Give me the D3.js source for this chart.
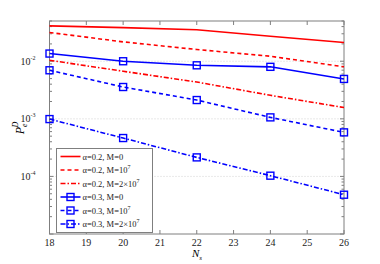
<!DOCTYPE html>
<html>
<head>
<meta charset="utf-8">
<script src="https://cdn.jsdelivr.net/npm/d3@7"></script>
<style>
  body { margin: 0; background: #fff; }
  svg { display: block; font-family: "Liberation Serif", "DejaVu Serif", serif; }
</style>
</head>
<body>
<div id="chart"></div>
<script>
const Ns = [18, 20, 22, 24, 26];

const a02M0   = [0.0411, 0.0383, 0.0353, 0.0272, 0.0211];
const a02M1e7 = [0.0316, 0.0217, 0.0160, 0.0122, 0.0080];
const a02M2e7 = [0.0104, 0.0067, 0.00436, 0.00256, 0.00157];
const a03M0   = [0.0136, 0.0100, 0.0085, 0.0080, 0.00493];
const a03M1e7 = [0.00697, 0.00357, 0.00212, 0.00106, 0.000582];
const a03M2e7 = [0.00099, 0.000464, 0.000214, 0.000103, 0.0000481];

const xTicks = [18, 19, 20, 21, 22, 23, 24, 25, 26];
const yTicks = [1e-4, 1e-3, 1e-2];
const yTickExp = ['-4', '-3', '-2'];

const series = [
    { alpha: '0.2', m: ['0'], values: a02M0, color: '#ff0000', dash: null, marker: false },
    { alpha: '0.2', m: ['10', '7'], values: a02M1e7, color: '#ff0000', dash: '4,3', marker: false },
    { alpha: '0.2', m: ['2×10', '7'], values: a02M2e7, color: '#ff0000', dash: '5,2,1.5,2', marker: false },
    { alpha: '0.3', m: ['0'], values: a03M0, color: '#0000ff', dash: null, marker: true },
    { alpha: '0.3', m: ['10', '7'], values: a03M1e7, color: '#0000ff', dash: '4,3', marker: true },
    { alpha: '0.3', m: ['2×10', '7'], values: a03M2e7, color: '#0000ff', dash: '5,2,1.5,2', marker: true }
];

const width = 380, height = 264;
const margin = { top: 21, right: 36, bottom: 30, left: 49.5 };
const iw = width - margin.left - margin.right;
const ih = height - margin.top - margin.bottom;

const svg = d3.select('#chart').append('svg')
    .attr('width', width)
    .attr('height', height);

const g = svg.append('g').attr('transform', `translate(${margin.left},${margin.top})`);

const x = d3.scaleLinear().domain([18, 26]).range([0, iw]);
const y = d3.scaleLog().domain([1e-5, 5e-2]).range([ih, 0]);

// grid
g.append('g').selectAll('line')
    .data(yTicks)
    .join('line')
    .attr('x1', 0).attr('x2', iw)
    .attr('y1', d => y(d)).attr('y2', d => y(d))
    .attr('stroke', '#c8c8c8')
    .attr('stroke-width', 0.8)
    .attr('stroke-dasharray', '1,2');

// minor ticks on y
const minor = [];
for (let e = -5; e <= -2; e++) {
    for (let k = 1; k <= 9; k++) {
        const v = k * Math.pow(10, e);
        if (v >= 1e-5 && v <= 5e-2) minor.push({ v, major: k === 1 });
    }
}
const tickCol = '#7f7f7f';
const yt = g.append('g');
minor.forEach(t => {
    const len = t.major ? 4 : 2.5;
    yt.append('line').attr('x1', 0).attr('x2', len).attr('y1', y(t.v)).attr('y2', y(t.v)).attr('stroke', tickCol);
    yt.append('line').attr('x1', iw).attr('x2', iw - len).attr('y1', y(t.v)).attr('y2', y(t.v)).attr('stroke', tickCol);
});

// x ticks
const xt = g.append('g');
xTicks.forEach(t => {
    xt.append('line').attr('x1', x(t)).attr('x2', x(t)).attr('y1', ih).attr('y2', ih - 4).attr('stroke', tickCol);
    xt.append('line').attr('x1', x(t)).attr('x2', x(t)).attr('y1', 0).attr('y2', 4).attr('stroke', tickCol);
    xt.append('text')
        .attr('x', x(t)).attr('y', ih + 12)
        .attr('text-anchor', 'middle')
        .attr('font-size', 10)
        .attr('fill', '#222')
        .text(t);
});

// y tick labels
yTicks.forEach((t, i) => {
    const tx = g.append('text')
        .attr('x', -14).attr('y', y(t) + 3.5)
        .attr('text-anchor', 'end')
        .attr('font-size', 10)
        .attr('fill', '#222');
    tx.append('tspan').text('10');
    tx.append('tspan').attr('font-size', 6).attr('dy', -5).text(yTickExp[i]);
});

// frame
g.append('rect')
    .attr('width', iw).attr('height', ih)
    .attr('fill', 'none')
    .attr('stroke', tickCol)
    .attr('stroke-width', 1);

// lines
const line = d3.line()
    .x((d, i) => x(Ns[i]))
    .y(d => y(d));

series.forEach(s => {
    g.append('path')
        .datum(s.values)
        .attr('d', line)
        .attr('fill', 'none')
        .attr('stroke', s.color)
        .attr('stroke-width', 1.6)
        .attr('stroke-dasharray', s.dash);
    if (s.marker) {
        g.selectAll(null)
            .data(s.values)
            .join('rect')
            .attr('x', (d, i) => x(Ns[i]) - 3.5)
            .attr('y', d => y(d) - 3.5)
            .attr('width', 7).attr('height', 7)
            .attr('fill', 'none')
            .attr('stroke', s.color)
            .attr('stroke-width', 1.4);
    }
});

// axis labels
const xl = svg.append('text')
    .attr('x', 197).attr('y', 257)
    .attr('text-anchor', 'middle')
    .attr('font-size', 11)
    .attr('font-style', 'italic');
xl.append('tspan').text('N');
xl.append('tspan').attr('font-size', 7).attr('dy', 3).text('s');

const yl = svg.append('text')
    .attr('transform', 'translate(24,128) rotate(-90)')
    .attr('text-anchor', 'middle')
    .attr('font-size', 12)
    .attr('font-style', 'italic');
yl.append('tspan').text('P');
yl.append('tspan').attr('font-size', 8).attr('dy', 3).text('e');
yl.append('tspan').attr('font-size', 8).attr('dx', -4).attr('dy', -9).text('D');

// legend
const lg = svg.append('g').attr('transform', 'translate(56.5,148.5)');
lg.append('rect')
    .attr('width', 96).attr('height', 84)
    .attr('fill', '#fff')
    .attr('stroke', tickCol)
    .attr('stroke-width', 1);
series.forEach((s, i) => {
    const yy = 8 + i * 13.5;
    lg.append('line')
        .attr('x1', 4).attr('x2', 24)
        .attr('y1', yy).attr('y2', yy)
        .attr('stroke', s.color)
        .attr('stroke-width', 1.6)
        .attr('stroke-dasharray', s.dash);
    if (s.marker) {
        lg.append('rect')
            .attr('x', 10.5).attr('y', yy - 3.5)
            .attr('width', 7).attr('height', 7)
            .attr('fill', 'none')
            .attr('stroke', s.color)
            .attr('stroke-width', 1.4);
    }
    const t = lg.append('text')
        .attr('x', 26).attr('y', yy + 3)
        .attr('font-size', 8.5)
        .attr('fill', '#222');
    t.append('tspan').text(`α=${s.alpha}, M=${s.m[0]}`);
    if (s.m[1]) t.append('tspan').attr('font-size', 6).attr('dy', -4).text(s.m[1]);
});
</script>
</body>
</html>
